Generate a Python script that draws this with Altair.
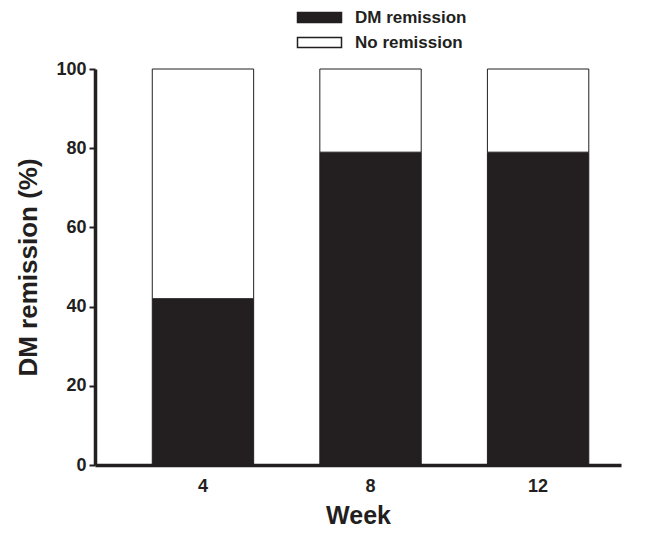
import altair as alt
import pandas as pd

weeks = ["4", "8", "12"]
remission = [42, 79, 79]
no_remission = [100 - v for v in remission]
groups = ["DM remission", "No remission"]

rows = []
for w, r, n in zip(weeks, remission, no_remission):
    rows.append({"Week": w, "Group": groups[0], "Value": r, "ord": 0})
    rows.append({"Week": w, "Group": groups[1], "Value": n, "ord": 1})
df = pd.DataFrame(rows)

FONT = "Liberation Sans"

chart = alt.Chart(df).mark_bar(stroke="#231f20", strokeWidth=1).encode(
    x=alt.X("Week:N", sort=weeks,
            scale=alt.Scale(paddingInner=0.395, paddingOuter=0.267, align=0.64),
            axis=alt.Axis(title="Week", labelAngle=0, ticks=False, labelPadding=12,
                          titlePadding=8, titleFontSize=25, domainWidth=3.5,
                          domainColor="#231f20")),
    y=alt.Y("Value:Q", stack="zero",
            scale=alt.Scale(domain=[0, 100], nice=False),
            axis=alt.Axis(title="DM remission (%)", values=[0, 20, 40, 60, 80, 100],
                          grid=False, tickSize=6, tickWidth=2, tickColor="#231f20",
                          domainWidth=3.5, domainColor="#231f20", labelPadding=3,
                          titlePadding=14)),
    color=alt.Color("Group:N", sort=groups,
                    scale=alt.Scale(domain=groups, range=["#231f20", "#ffffff"]),
                    legend=alt.Legend(title=None, orient="none", legendX=216, legendY=-60,
                                      symbolType="M-4.4,-1H4.4V1H-4.4Z", symbolSize=100,
                                      symbolStrokeColor="#231f20", symbolStrokeWidth=1.5,
                                      labelFont=FONT, labelFontSize=17, labelFontWeight="bold",
                                      labelColor="#231f20", rowPadding=7, labelOffset=27)),
    order=alt.Order("ord:Q"),
).properties(
    width=526, height=396,
    autosize=alt.AutoSizeParams(type="none"),
    padding={"left": 87, "top": 61, "right": 22, "bottom": 66},
).configure_axis(
    labelFont=FONT, labelFontSize=18, labelFontWeight="bold", labelColor="#231f20",
    titleFont=FONT, titleFontSize=26, titleFontWeight="bold", titleColor="#231f20",
).configure_view(stroke=None)

chart.save("out.html", embed_options={"renderer": "svg", "actions": False})
